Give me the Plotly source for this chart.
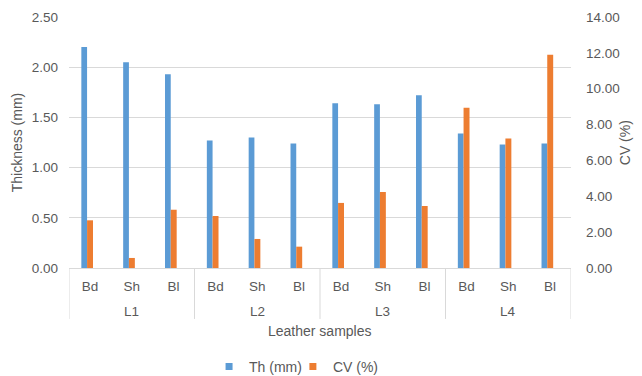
import plotly.graph_objects as go

groups = ["L1", "L1", "L1", "L2", "L2", "L2", "L3", "L3", "L3", "L4", "L4", "L4"]
samples = ["Bd", "Sh", "Bl"] * 4
th_mm = [2.20, 2.05, 1.93, 1.27, 1.30, 1.24, 1.64, 1.63, 1.72, 1.34, 1.23, 1.24]
cv_pct = [2.66, 0.56, 3.25, 2.90, 1.62, 1.19, 3.63, 4.24, 3.46, 8.94, 7.23, 11.90]

left_ticks = [0, 0.5, 1.0, 1.5, 2.0, 2.5]
right_ticks = [0, 2, 4, 6, 8, 10, 12, 14]

BLUE = "#5b9bd5"
ORANGE = "#ed7d31"
GREY = "#595959"
LINE = "#d9d9d9"
FONT = "Liberation Sans, Arial, sans-serif"

idx = list(range(len(samples)))

fig = go.Figure()
fig.add_trace(go.Bar(
    x=idx, y=th_mm, name="Th (mm)", marker=dict(color=BLUE, line=dict(width=0)),
    offset=-0.205, width=0.137, yaxis="y", showlegend=False,
))
fig.add_trace(go.Bar(
    x=idx, y=cv_pct, name="CV (%)", marker=dict(color=ORANGE, line=dict(width=0)),
    offset=-0.068, width=0.142, yaxis="y2", showlegend=False,
))
# legend entries (small square keys like the original), one legend box each
for name, col, leg in [("Th (mm)", BLUE, "legend"), ("CV (%)", ORANGE, "legend2")]:
    fig.add_trace(go.Scatter(
        x=[None], y=[None], mode="markers", name=name, legend=leg,
        marker=dict(symbol="square", size=7, color=col), showlegend=True,
    ))

# group labels and dividers
shapes = []
annotations = []
unique_groups = []
for g in groups:
    if g not in unique_groups:
        unique_groups.append(g)
bounds = [-0.5]
for g in unique_groups:
    members = [i for i, gg in enumerate(groups) if gg == g]
    annotations.append(dict(
        x=sum(members) / len(members), y=-0.175, xref="x", yref="paper",
        text=g, showarrow=False, font=dict(size=13.5, color=GREY),
        xanchor="center", yanchor="middle",
    ))
    bounds.append(max(members) + 0.5)
for b in bounds:
    shapes.append(dict(type="line", xref="x", yref="paper", x0=b, x1=b, y0=0, y1=-0.203,
                       line=dict(color=LINE, width=1)))

annotations += [
    dict(text="Leather samples", x=0.5, y=-0.251, xref="paper", yref="paper",
         showarrow=False, font=dict(size=14, color=GREY), xanchor="center", yanchor="middle"),
    dict(text="Thickness (mm)", x=-0.104, y=0.5, xref="paper", yref="paper", textangle=-90,
         showarrow=False, font=dict(size=14, color=GREY), xanchor="center", yanchor="middle"),
    dict(text="CV (%)", x=1.107, y=0.5, xref="paper", yref="paper", textangle=-90,
         showarrow=False, font=dict(size=14, color=GREY), xanchor="center", yanchor="middle"),
]

legend_style = dict(orientation="h", xanchor="left", y=-0.394, yanchor="middle",
                    font=dict(size=14, color=GREY), itemwidth=30,
                    bgcolor="rgba(0,0,0,0)")

fig.update_layout(
    width=642, height=376,
    margin=dict(l=69, r=71, t=17, b=108, autoexpand=False),
    paper_bgcolor="white", plot_bgcolor="white",
    font=dict(family=FONT, size=12, color=GREY),
    barmode="overlay",
    showlegend=True,
    legend=dict(x=0.279, **legend_style),
    legend2=dict(x=0.446, **legend_style),
    xaxis=dict(
        range=[-0.5, len(samples) - 0.5], tickvals=idx, ticktext=samples,
        showline=True, linecolor=LINE, linewidth=1,
        showgrid=False, ticks="", zeroline=False, automargin=False,
        tickfont=dict(size=13.5, color=GREY), ticklabelstandoff=6,
    ),
    yaxis=dict(
        range=[0, 2.5], tickvals=left_ticks, tickformat=".2f",
        showgrid=True, gridcolor=LINE, gridwidth=1,
        zeroline=False, showline=False, ticks="", automargin=False,
        tickfont=dict(size=13.5, color=GREY), ticklabelstandoff=10,
    ),
    yaxis2=dict(
        range=[0, 14], tickvals=right_ticks, tickformat=".2f",
        overlaying="y", side="right", showgrid=False, zeroline=False,
        showline=False, ticks="", automargin=False,
        tickfont=dict(size=13.5, color=GREY), ticklabelstandoff=14,
    ),
    shapes=shapes,
    annotations=annotations,
)

fig.write_html("out.html", config={"displayModeBar": False},
               post_script="document.body.style.margin='0';")
